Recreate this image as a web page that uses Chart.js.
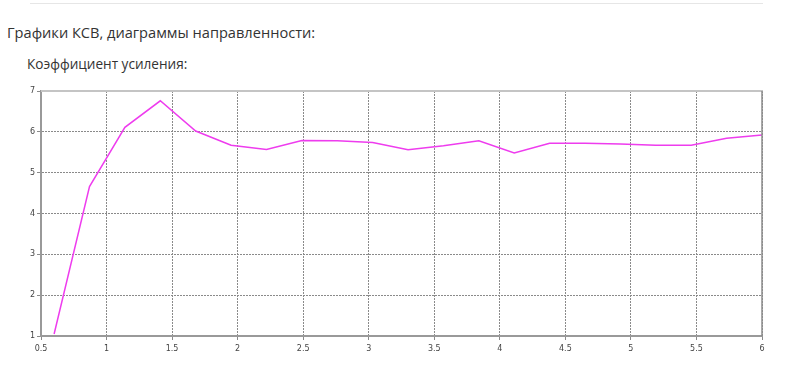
<!DOCTYPE html>
<html><head><meta charset="utf-8">
<script src="https://cdn.jsdelivr.net/npm/chart.js@4/dist/chart.umd.min.js"></script>
<style>
html,body{margin:0;padding:0;background:#fff;width:788px;height:388px;overflow:hidden;font-family:"Open Sans",sans-serif;color:#333;}
#topline{position:absolute;left:30px;top:3px;width:733px;height:1px;background:#e6e6e6;}
#h1{position:absolute;left:7px;top:22px;font-size:14.6px;white-space:nowrap;}
#h2{position:absolute;left:27px;top:54px;font-size:13.6px;white-space:nowrap;}
#wrap{position:absolute;left:0;top:80px;width:788px;height:280px;}
</style></head>
<body>
<div id="topline"></div>
<div id="h1">Графики КСВ, диаграммы направленности:</div>
<div id="h2">Коэффициент усиления:</div>
<div id="wrap"><canvas id="c" width="788" height="280"></canvas></div>
<script>
const freq = [0.6,0.87,1.14,1.41,1.68,1.95,2.22,2.49,2.76,3.03,3.3,3.57,3.84,4.11,4.38,4.65,4.92,5.19,5.46,5.73,6.0];
const gain = [1.05,4.66,6.11,6.76,6.02,5.67,5.57,5.79,5.78,5.74,5.56,5.66,5.78,5.48,5.72,5.72,5.70,5.67,5.67,5.84,5.92];
const xTicks = [0.5,1,1.5,2,2.5,3,3.5,4,4.5,5,5.5,6];
const yTicks = [1,2,3,4,5,6,7];

const frame = {
  id:'frame',
  afterDatasetsDraw(chart){
    const {ctx, chartArea:a} = chart;
    ctx.save();
    ctx.setLineDash([]);
    ctx.strokeStyle='#c4c4c4'; ctx.lineWidth=2;
    ctx.beginPath(); ctx.moveTo(a.left,a.top); ctx.lineTo(a.right+1,a.top); ctx.stroke();
    ctx.strokeStyle='#8c8c8c'; ctx.lineWidth=1.5;
    ctx.beginPath(); ctx.moveTo(a.right,a.top); ctx.lineTo(a.right,a.bottom); ctx.stroke();
    ctx.restore();
  }
};

new Chart(document.getElementById('c'), {
  type:'line',
  data:{datasets:[{data:freq.map((x,i)=>({x:x,y:gain[i]})), borderColor:'#ee3cee', borderWidth:1.5, pointRadius:0, tension:0, fill:false}]},
  options:{
    responsive:false, animation:false,
    layout:{padding:{top:11,right:26,left:0,bottom:0}},
    plugins:{legend:{display:false},tooltip:{enabled:false}},
    scales:{
      x:{type:'linear',min:0.5,max:6,
        afterBuildTicks(s){s.ticks=xTicks.map(v=>({value:v}));},
        afterFit(s){s.height=24;},
        ticks:{font:{family:'DejaVu Sans',size:8},color:'#444',padding:4,maxRotation:0,autoSkip:false,callback:v=>String(v)},
        grid:{color:'#8a8a8a',lineWidth:1,tickLength:4,drawTicks:true},
        border:{color:'#999',width:2,dash:[2,1]}
      },
      y:{min:1,max:7,
        afterBuildTicks(s){s.ticks=yTicks.map(v=>({value:v}));},
        afterFit(s){s.width=41;},
        ticks:{font:{family:'DejaVu Sans',size:8},color:'#444',padding:2,callback:v=>String(v)},
        grid:{color:'#8a8a8a',lineWidth:1,tickLength:4},
        border:{color:'#999',width:2,dash:[2,1]}
      }
    }
  },
  plugins:[frame]
});
</script>
</body></html>
